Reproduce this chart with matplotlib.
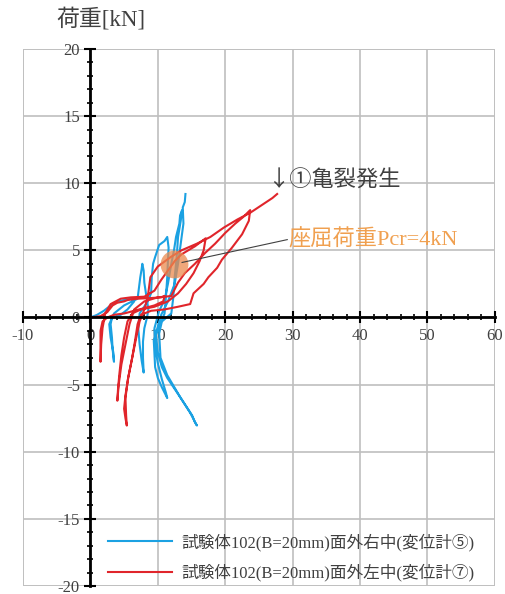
import matplotlib.pyplot as plt
from matplotlib.patches import Rectangle
from matplotlib.ticker import MultipleLocator

plt.rcParams['font.family'] = ['Liberation Serif', 'Noto Sans CJK JP']
plt.rcParams['axes.unicode_minus'] = False

# 変位計⑤ (面外右中) : displacement [mm], load [kN]
blue_x = [0, 1, 2, 3, 4, 5, 6, 6.5, 5.5, 4.5, 3.2, 3.0, 3.2, 3.3, 3.5, 3.4, 3.0, 2.8, 3.5, 5, 7,
          7.2, 7.4, 7.6, 7.7, 7.9, 8.0, 8.3, 8.6, 8.4, 8.0, 7.8, 7.8, 7.9, 7.6, 7.3, 7.1, 7.3, 8.5, 9.0,
          9.1, 9.3, 9.6, 10.2, 11.0, 11.4, 11.6, 11.5, 11.4, 11.2, 11.0, 9.4, 9.6, 10.0, 10.6,
          11.0, 11.4, 11.2, 10.6, 10.0, 9.6, 9.5, 10.2, 11.0,
          11.5, 12.0, 12.4, 12.7, 13.2, 13.3, 13.6, 13.4, 13.0, 12.8, 12.5, 12.3, 12.0, 10.6, 10.2,
          10.4, 11.4, 13.4, 14.8, 15.8, 15.5, 15.1, 13.8, 12.6, 11.4, 10.6, 10.0, 9.7, 10.5, 11.5, 12.5,
          13.0, 13.4, 13.8, 13.7, 14.0, 14.1]
blue_y = [0, 0.2, 0.5, 0.9, 1.2, 1.3, 1.4, 1.2, 0.6, 0.2, 0, -0.5, -1.5, -2.4, -3.3, -2.6, -1.5, -0.5, 0.3, 0.9, 1.4,
          2.2, 3.0, 3.6, 4.0, 3.5, 2.6, 1.6, 0.6, 0, -0.8, -1.8, -3.0, -4.1, -3.2, -2.0, -0.8, 0.3, 1.2, 1.8,
          3.0, 4.0, 4.5, 5.4, 5.7, 6.0, 5.2, 4.2, 3.0, 1.5, 0.3, -1.7, -3.7, -4.5, -5.2,
          -5.6, -6.0, -5.6, -4.6, -3.4, -2.2, -0.8, 0.5, 1.3,
          2.5, 4.0, 5.0, 6.0, 7.0, 7.6, 8.0, 7.2, 6.0, 4.5, 3.0, 1.5, 0.3, -0.3, -1.2,
          -3.0, -4.3, -6.0, -7.1, -8.05, -7.8, -7.3, -6.3, -5.4, -4.5, -3.7, -2.6, -1.2, 0.2, 1.2, 2.5,
          4.0, 5.5, 7.0, 8.2, 8.6, 9.2]

# 変位計⑦ (面外左中)
red_x = [0, 1.5, 2.5, 3.3, 4.0, 5.0, 5.5, 7, 9, 10.5, 11.0, 10.8, 9.5, 8, 6.5, 5, 3.5, 2.5, 1.8,
         1.5, 1.5, 1.5, 1.6, 1.8, 2.2, 3.0, 4.5, 6, 8,
         9.5, 10.5, 11.5, 12.5, 13.5, 14.5, 15.5, 16.3, 17.1, 16.8, 16.2, 15.3, 14.2, 13.0, 11.5,
         9.5, 7.5, 6.2, 5.5, 5.0, 4.6, 4.3, 4.1, 4.0, 4.2, 4.6, 5.2, 5.8, 6.5, 8.0, 10.0, 12.0,
         13.0, 14.0, 15.5, 17.0, 18.5, 20.0, 21.5, 22.7, 23.7, 23.5, 22.5, 21.0, 19.5, 18.8, 17.5,
         16.8, 15.3, 14.8, 13, 11, 9, 7.5, 7.0, 6.6, 6.2, 5.6, 5.2, 5.0, 5.2, 5.4, 5.3, 5.2, 5.6,
         6.2, 6.8, 7.3, 8,
         8.5, 8.9, 10.0, 11.9, 13.5, 15.8, 17.8, 19.8, 21.8, 23.7, 25.5, 27.0, 27.7]
red_y = [0, 0.1, 0.4, 0.9, 1.1, 1.2, 1.3, 1.4, 1.45, 1.5, 1.6, 1.2, 0.9, 0.7, 0.5, 0.3, 0.2, 0, -0.3,
         -1.0, -2.2, -3.3, -2.0, -0.8, 0.3, 1.0, 1.4, 1.5, 1.55,
         2.0, 2.8, 3.5, 4.2, 4.7, 5.0, 5.3, 5.6, 5.9, 5.0, 4.2, 3.3, 2.5, 1.8, 1.2,
         0.8, 0.6, 0.3, -0.3, -1.5, -2.8, -4.2, -5.3, -6.2, -5.0, -3.5, -2.0, -0.5, 0.6, 1.2, 1.5, 1.6,
         2.6, 3.3, 4.0, 4.8, 5.5, 6.3, 7.0, 7.5, 8.0, 7.2, 6.2, 5.2, 4.3, 3.7, 3.0,
         2.5, 1.8, 1.0, 0.8, 0.6, 0.5, 0.2, -0.5, -1.8, -3.0, -4.5, -5.8, -6.8, -7.5, -8.05, -7.3, -6.0, -4.5,
         -3.0, -1.5, -0.3, 0.6,
         1.5, 3.0, 3.8, 4.5, 5.0, 5.5, 6.0, 6.7, 7.3, 7.8, 8.4, 8.9, 9.2]

labels = ['試験体102(B=20mm)面外右中(変位計⑤)', '試験体102(B=20mm)面外左中(変位計⑦)']
pcr = (12.4, 4.0)

fig = plt.figure(figsize=(5.05, 5.94), dpi=100)
ax = fig.add_axes([0.0455, 0.0135, 0.9345, 0.904])

ax.plot(blue_x, blue_y, color='#1ba1e2', lw=1.5, label=labels[0])
ax.plot(red_x, red_y, color='#e0252b', lw=1.5, label=labels[1])
ax.plot([pcr[0]], [pcr[1]], 'o', ms=20, color='#eb8a4e', alpha=0.75, mec='none')

ax.set_xlim(-10, 60)
ax.set_ylim(-20, 20)
ax.xaxis.set_major_locator(MultipleLocator(10))
ax.xaxis.set_minor_locator(MultipleLocator(2))
ax.yaxis.set_major_locator(MultipleLocator(5))
ax.yaxis.set_minor_locator(MultipleLocator(1))
ax.grid(True, which='major', color='#bfbfbf', lw=1.2)
ax.set_axisbelow(True)

# 軸は原点を通す
ax.spines['left'].set_position(('data', 0))
ax.spines['bottom'].set_position(('data', 0))
for s in ['left', 'bottom']:
    ax.spines[s].set_linewidth(2)
    ax.spines[s].set_color('black')
for s in ['top', 'right']:
    ax.spines[s].set_visible(False)
ax.add_patch(Rectangle((0, 0), 1, 1, transform=ax.transAxes, fill=False,
                       ec='#bfbfbf', lw=1.2, zorder=0.5))
ax.tick_params(which='major', direction='inout', length=8, width=1.5, labelsize=12,
               labelcolor='#404040')
ax.tick_params(which='minor', direction='inout', length=5, width=1.2)

fig.text(0.2, 0.968, '荷重[kN]', ha='center', va='center', fontsize=16.5, color='#404040')

ax.text(26.2, 10.2, '↓①亀裂発生', fontsize=16, color='#404040', va='center',
        family=['Noto Sans CJK JP'])
ax.plot([13.6, 29.2], [4.1, 5.8], color='#404040', lw=0.8)
ax.text(29.3, 5.8, '座屈荷重Pcr=4kN', fontsize=16, color='#f0a050', va='center')

leg = ax.legend(loc='lower left', bbox_to_anchor=(0.16, -0.01), fontsize=12, frameon=False,
                handlelength=3.8, borderaxespad=0.2, labelspacing=0.75, handletextpad=0.6)
for t in leg.get_texts():
    t.set_color('#404040')

fig.savefig('out.png')
